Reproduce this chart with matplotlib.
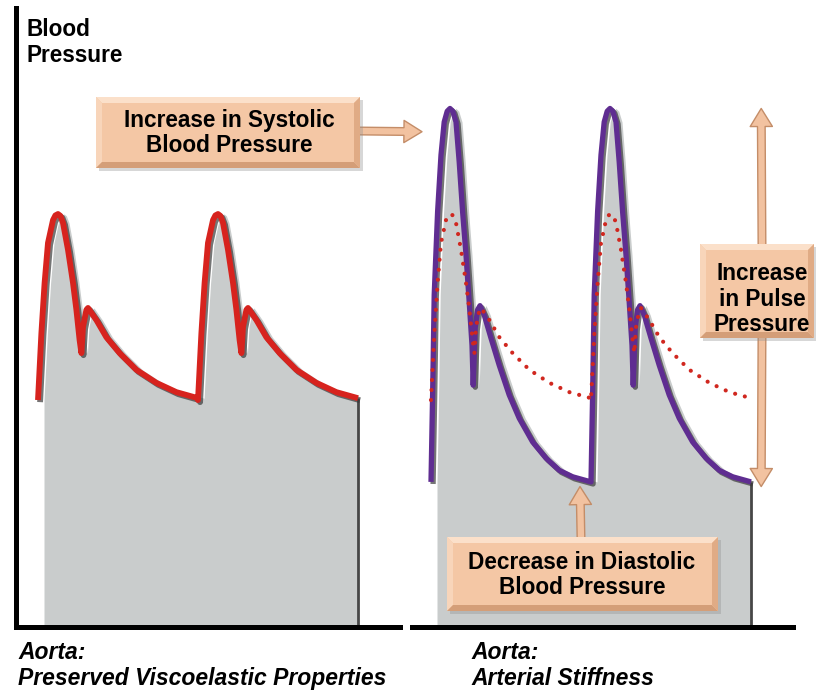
import numpy as np
import matplotlib.pyplot as plt
import matplotlib.patheffects as pe
from matplotlib.patches import Polygon, Rectangle, ConnectionPatch

plt.rcParams['font.family'] = ['Liberation Sans', 'DejaVu Sans']

# one cardiac cycle: ms from the upstroke, pressure (mmHg)
normal_t = [0, 17, 33, 50, 75, 87, 100, 112, 125, 150, 175, 192, 208, 217,
            225, 242, 250, 292, 342, 408, 492, 592, 692, 800]
normal_p = [80, 94.4, 105.2, 113.8, 118.7, 119.7, 120, 119.6, 118.1, 112.3,
            105.2, 99.4, 92.9, 90.1, 95.7, 99.4, 99.8, 97.2, 93.5, 90.1,
            86.5, 83.7, 81.7, 80.4]

stiff_t = [0, 8, 16, 33, 50, 66, 81, 95, 109, 125, 141, 158, 175, 191, 205,
           211, 221, 233, 245, 266, 300, 341, 391, 441, 508, 575, 641, 708, 800]
stiff_p = [62.4, 81.1, 102.6, 120.5, 132.7, 139.8, 142.1, 142.7, 142.1, 139.8,
           131.2, 120.5, 111.2, 101.1, 91.8, 83.2, 95.5, 99.4, 100.3, 98.3,
           93.3, 87.5, 81.1, 76.1, 71.0, 67.5, 64.9, 63.5, 62.4]

beat_starts = [0, 800]

panel_labels = ['Aorta:\nPreserved Viscoelastic Properties',
                'Aorta:\nArterial Stiffness']
y_label = 'Blood\nPressure'
note_sys = 'Increase in Systolic\nBlood Pressure'
note_dia = 'Decrease in Diastolic\nBlood Pressure'
note_pp = 'Increase\nin Pulse\nPressure'


def cycles(t, p):
    tt = np.concatenate([np.asarray(t, float) + s for s in beat_starts])
    pp = np.concatenate([np.asarray(p, float) for s in beat_starts])
    return tt, pp


W, H = 816, 691
fig = plt.figure(figsize=(W / 100, H / 100), dpi=100)
ymin, ymax = 31.2, 164.3

ax_l = fig.add_axes([16 / W, (H - 627) / H, 384 / W, 619 / H])
ax_r = fig.add_axes([412 / W, (H - 627) / H, 381 / W, 619 / H])
ax_l.set_xlim(-110, 1810)
ax_r.set_xlim(-95, 1810)

shadow = [pe.SimpleLineShadow(offset=(1.5, -1.5), shadow_color='#3a3a3a', alpha=0.7),
          pe.Normal()]


def waveform_area(ax, t, p):
    # grey area sits a little to the right of the trace
    tf = t + 30
    keep = tf <= t[-1]
    tf = np.append(tf[keep], t[-1])
    pf = np.append(p[keep], p[-1])
    ax.fill_between(tf, pf, ymin, color='#C9CCCC', lw=0, zorder=1)
    ax.vlines(t[-1], ymin, p[-1], color='#474747', lw=2, zorder=2)


tn, pn = cycles(normal_t, normal_p)
ts, ps = cycles(stiff_t, stiff_p)

waveform_area(ax_l, tn, pn)
ax_l.plot(tn, pn, color='#D7231E', lw=4.2, solid_capstyle='butt',
          solid_joinstyle='round', path_effects=shadow, zorder=3)

waveform_area(ax_r, ts, ps)
ax_r.plot(ts, ps, color='#5F2D91', lw=3.8, solid_capstyle='butt',
          solid_joinstyle='round', path_effects=shadow, zorder=3)
ax_r.plot(tn, pn, color='#D0271F', lw=3, linestyle=(0, (0.01, 2.4)),
          dash_capstyle='round', zorder=4)

for ax in (ax_l, ax_r):
    ax.set_ylim(ymin, ymax)
    ax.set_xticks([])
    ax.set_yticks([])
    ax.patch.set_alpha(0)
    for side in ('top', 'right', 'left'):
        ax.spines[side].set_visible(False)
    ax.spines['bottom'].set_linewidth(3.6)
    ax.spines['bottom'].set_capstyle('projecting')
ax_l.spines['left'].set_visible(True)
ax_l.spines['left'].set_linewidth(3.6)
ax_l.spines['left'].set_capstyle('projecting')

# overlay in pixel units for the labels and callouts
ax_o = fig.add_axes([0, 0, 1, 1], zorder=5)
ax_o.set_xlim(0, W)
ax_o.set_ylim(H, 0)
ax_o.axis('off')


def bevel_box(x0, y0, x1, y1, b=6):
    ax_o.add_patch(Rectangle((x0 + 3, y0 + 3), x1 - x0, y1 - y0,
                             fc='#8f8f8f', alpha=0.35, lw=0))
    ax_o.add_patch(Rectangle((x0, y0), x1 - x0, y1 - y0, fc='#F4C7A5', lw=0))
    sides = [
        ([(x0, y0), (x1, y0), (x1 - b, y0 + b), (x0 + b, y0 + b)], '#FBE0CA'),
        ([(x0, y0), (x0 + b, y0 + b), (x0 + b, y1 - b), (x0, y1)], '#F8D5BA'),
        ([(x0, y1), (x0 + b, y1 - b), (x1 - b, y1 - b), (x1, y1)], '#D49E78'),
        ([(x1, y0), (x1, y1), (x1 - b, y1 - b), (x1 - b, y0 + b)], '#E0AB85'),
    ]
    for pts, c in sides:
        ax_o.add_patch(Polygon(pts, closed=True, fc=c, lw=0))


def arrow(xy_px, xy_data):
    con = ConnectionPatch(xyA=xy_px, coordsA=ax_o.transData,
                          xyB=xy_data, coordsB=ax_r.transData,
                          arrowstyle='simple,head_length=13,head_width=16,tail_width=5.5',
                          mutation_scale=1, fc='#F2C2A0', ec='#C48D68', lw=1,
                          zorder=4)
    fig.add_artist(con)


arrow((358, 131), (-45, max(stiff_p) - 5))
arrow((581, 538), (745, min(stiff_p) - 1))
arrow((762, 246), (1651, max(stiff_p)))
arrow((762, 336), (1651, min(stiff_p) - 1))

bevel_box(96, 97, 360, 168)
bevel_box(700, 244, 814, 338)
bevel_box(447, 537, 718, 611)

txt = dict(fontsize=16.3, fontweight='bold', color='black', ha='center',
           va='center', linespacing=1.15)
ax_o.text(229, 133, note_sys, **txt)
ax_o.text(762, 299, note_pp, **txt)
ax_o.text(582, 575, note_dia, **txt)

ax_o.text(27, 18, y_label, fontsize=16.3, fontweight='bold', ha='left',
          va='top', linespacing=1.15)
ax_o.text(18, 641, panel_labels[0], fontsize=16.5, fontweight='bold',
          style='italic', ha='left', va='top', linespacing=1.15)
ax_o.text(471, 641, panel_labels[1], fontsize=16.5, fontweight='bold',
          style='italic', ha='left', va='top', linespacing=1.15)

fig.savefig('out.png', dpi=100)
